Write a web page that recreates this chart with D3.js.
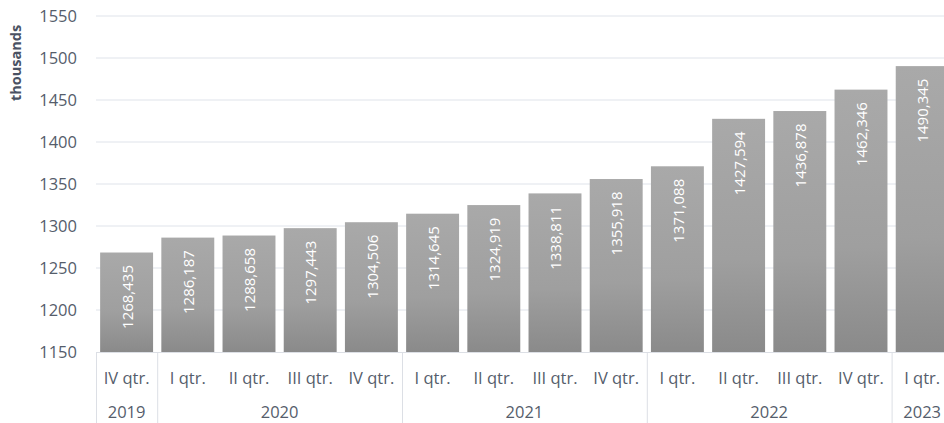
<!DOCTYPE html>
<html>
<head>
<meta charset="utf-8">
<script src="https://cdn.jsdelivr.net/npm/d3@7"></script>
<style>
  body { margin: 0; background: #fff; }
  svg { display: block; font-family: "Open Sans", sans-serif; }
</style>
</head>
<body>
<div id="chart"></div>
<script>
// quarterly values, thousands
const quarters = ["IV qtr.", "I qtr.", "II qtr.", "III qtr.", "IV qtr.",
  "I qtr.", "II qtr.", "III qtr.", "IV qtr.",
  "I qtr.", "II qtr.", "III qtr.", "IV qtr.", "I qtr."];
const years = ["2019", "2020", "2020", "2020", "2020",
  "2021", "2021", "2021", "2021",
  "2022", "2022", "2022", "2022", "2023"];
const values = [1268.435, 1286.187, 1288.658, 1297.443, 1304.506,
  1314.645, 1324.919, 1338.811, 1355.918,
  1371.088, 1427.594, 1436.878, 1462.346, 1490.345];
const yTicks = [1150, 1200, 1250, 1300, 1350, 1400, 1450, 1500, 1550];

const width = 944, height = 423;
const plotLeft = 96, plotTop = 16, plotBottom = 352;
const step = 61.2;

const svg = d3.select("#chart").append("svg")
  .attr("width", width).attr("height", height);

const grad = svg.append("defs").append("linearGradient")
  .attr("id", "barGrad").attr("x1", 0).attr("y1", 0).attr("x2", 0).attr("y2", 1);
grad.append("stop").attr("offset", "0%").attr("stop-color", "#a9a9a9");
grad.append("stop").attr("offset", "60%").attr("stop-color", "#9f9f9f");
grad.append("stop").attr("offset", "100%").attr("stop-color", "#8a8a8a");

const idx = values.map((d, i) => i);
const x = d3.scaleBand().domain(idx).range([plotLeft, plotLeft + step * values.length]).paddingInner(0.135).paddingOuter(0.0675);
const y = d3.scaleLinear().domain([1150, 1550]).range([plotBottom, plotTop]);

// gridlines
svg.append("g").selectAll("line").data(yTicks.slice(1)).join("line")
  .attr("x1", plotLeft).attr("x2", width)
  .attr("y1", d => y(d)).attr("y2", d => y(d))
  .attr("stroke", "#dfe3ea").attr("stroke-width", 1);

// y labels
svg.append("g").selectAll("text").data(yTicks).join("text")
  .attr("x", 77).attr("y", d => y(d)).attr("dy", "0.35em")
  .attr("text-anchor", "end")
  .attr("font-size", 16.5).attr("fill", "#555d6b")
  .text(d => d);

svg.append("text")
  .attr("transform", "translate(21,63) rotate(-90)")
  .attr("text-anchor", "middle")
  .attr("font-size", 14.5).attr("font-weight", "bold").attr("fill", "#4a5263")
  .text("thousands");

// bars
svg.append("g").selectAll("rect").data(values).join("rect")
  .attr("x", (d, i) => x(i)).attr("width", x.bandwidth())
  .attr("y", d => y(d)).attr("height", d => plotBottom - y(d))
  .attr("fill", "url(#barGrad)");

// bar labels
svg.append("g").selectAll("text").data(values).join("text")
  .attr("transform", (d, i) => `translate(${x(i) + x.bandwidth() / 2 + 1},${y(d) + 12.5}) rotate(-90)`)
  .attr("text-anchor", "end").attr("dy", "0.35em")
  .attr("font-size", 15).attr("fill", "#ffffff")
  .text(d => d3.format(".3f")(d).replace(".", ","));

// category axis
svg.append("line")
  .attr("x1", plotLeft).attr("x2", width).attr("y1", plotBottom + 0.5).attr("y2", plotBottom + 0.5)
  .attr("stroke", "#dcdfe5");

const groups = d3.groups(idx, i => years[i]).map(([yr, ids]) => ({ yr, first: ids[0], last: ids[ids.length - 1] }));
const bandStart = i => plotLeft + step * i;

svg.append("g").selectAll("line").data(groups).join("line")
  .attr("x1", d => bandStart(d.first) + 0.5).attr("x2", d => bandStart(d.first) + 0.5)
  .attr("y1", plotBottom).attr("y2", height)
  .attr("stroke", "#dcdfe5");

svg.append("g").selectAll("text").data(quarters).join("text")
  .attr("x", (d, i) => x(i) + x.bandwidth() / 2).attr("y", 378).attr("dy", "0.35em")
  .attr("text-anchor", "middle").attr("font-size", 16.5).attr("fill", "#555d6b")
  .text(d => d);

svg.append("g").selectAll("text").data(groups).join("text")
  .attr("x", d => (bandStart(d.first) + bandStart(d.last + 1)) / 2).attr("y", 412).attr("dy", "0.35em")
  .attr("text-anchor", "middle").attr("font-size", 16.5).attr("fill", "#555d6b")
  .text(d => d.yr);
</script>
</body>
</html>
